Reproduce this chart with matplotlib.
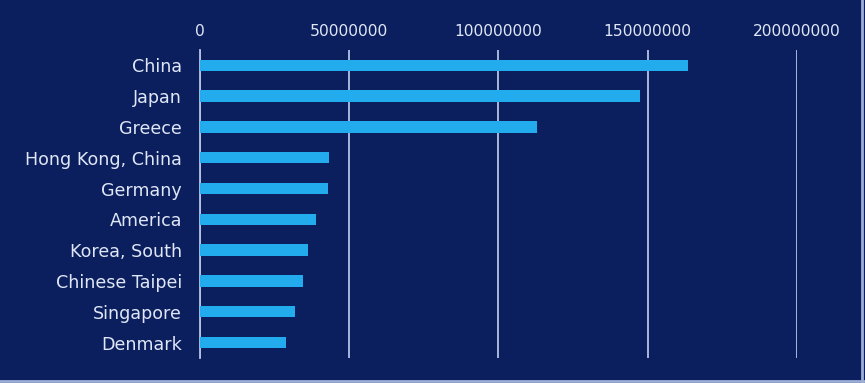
import matplotlib.pyplot as plt
from matplotlib.lines import Line2D

# Data (top to bottom)
countries = ["China", "Japan", "Greece", "Hong Kong, China", "Germany",
             "America", "Korea, South", "Chinese Taipei", "Singapore", "Denmark"]
values = [163500000, 147500000, 113000000, 43300000, 43000000,
          38800000, 36200000, 34500000, 31800000, 28800000]
ticks = [0, 50000000, 100000000, 150000000, 200000000]

bg = "#0b1f5f"
bar_color = "#22acee"
grid_color = "#b4c2e4"
text_color = "#dfe6f5"

fig = plt.figure(figsize=(8.65, 3.83), dpi=100, facecolor=bg)
ax = fig.add_axes([0.2312, 0.0653, 0.6902, 0.8042])
ax.set_facecolor(bg)

ypos = list(range(len(countries)))
ax.barh(ypos, values, height=0.37, color=bar_color, zorder=3)
ax.set_ylim(len(countries) - 0.5, -0.5)
ax.set_xlim(0, 200000000)

ax.set_yticks(ypos)
ax.set_yticklabels(countries, fontsize=12.6, color=text_color)
ax.set_xticks(ticks)
ax.set_xticklabels([str(t) for t in ticks], fontsize=11.2, color=text_color)
ax.xaxis.tick_top()
ax.tick_params(axis="x", length=0, pad=8)
ax.tick_params(axis="y", length=0, pad=13)

ax.grid(axis="x", color=grid_color, linewidth=1.3, zorder=1)
for s in ["top", "right", "bottom"]:
    ax.spines[s].set_visible(False)
ax.spines["left"].set_color(grid_color)
ax.spines["left"].set_linewidth(1.3)

# light frame on the right and bottom edges of the picture
fig.add_artist(Line2D([0.997, 0.997], [0.0, 1.0], transform=fig.transFigure,
                      color="#9fb0d6", linewidth=2))
fig.add_artist(Line2D([0.0, 1.0], [0.006, 0.006], transform=fig.transFigure,
                      color="#9fb0d6", linewidth=2))

plt.savefig("out.png", facecolor=bg)
